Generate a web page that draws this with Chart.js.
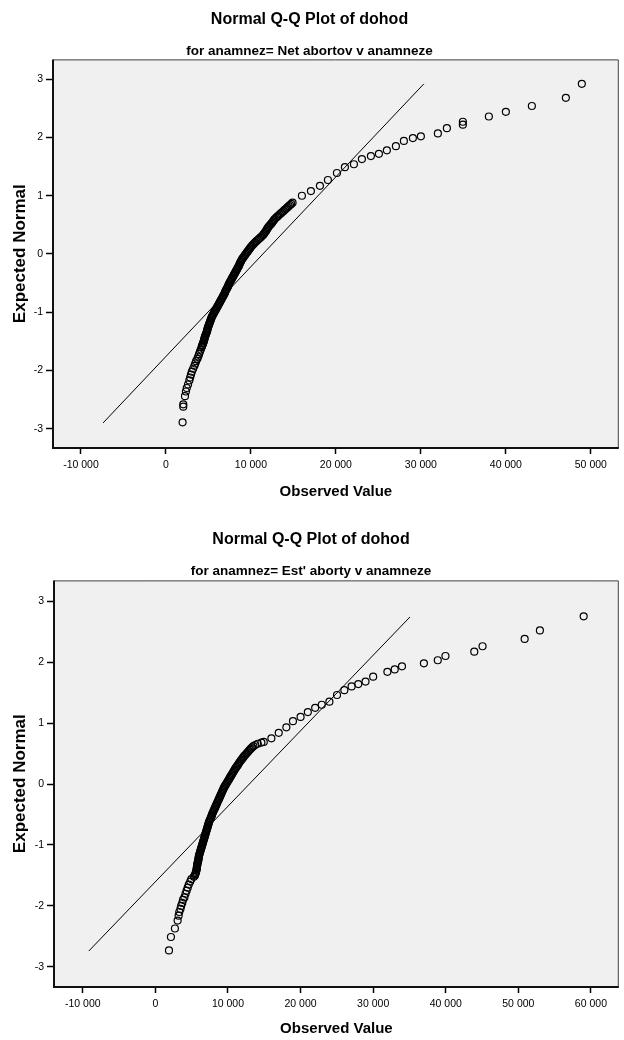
<!DOCTYPE html>
<html>
<head>
<meta charset="utf-8">
<script src="https://cdn.jsdelivr.net/npm/chart.js@4/dist/chart.umd.min.js"></script>
<style>
  body { margin: 0; background: #fff; }
  .box { position: absolute; left: 0; width: 624px; }
</style>
</head>
<body>
<div class="box" style="top:0;height:510px"><canvas id="qqTop"></canvas></div>
<div class="box" style="top:520px;height:520px"><canvas id="qqBottom"></canvas></div>
<script>
// tick labels
const yTicks = [-3, -2, -1, 0, 1, 2, 3];
const xTicksTop = [-10000, 0, 10000, 20000, 30000, 40000, 50000];
const xTicksBottom = [-10000, 0, 10000, 20000, 30000, 40000, 50000, 60000];

// Net abortov v anamneze: lower tail, dense middle, upper tail
const topLowX = [1960, 2040, 2040, 2240, 2350, 2450, 2600, 2750, 2850, 2950,
  3050, 3200, 3350, 3450, 3550, 3700, 3800, 3900, 4000, 4100];
const topLowY = [-2.89, -2.62, -2.58, -2.44, -2.36, -2.30, -2.24, -2.17, -2.12, -2.07,
  -2.02, -1.97, -1.92, -1.88, -1.84, -1.80, -1.76, -1.72, -1.68, -1.64];
const topMidX = [4200, 4250, 4300, 4350, 4400, 4450, 4500, 4520, 4550, 4600,
  4650, 4700, 4750, 4800, 4850, 4870, 4900, 4950, 5000, 5050,
  5100, 5150, 5200, 5250, 5300, 5350, 5400, 5470, 5550, 5620,
  5700, 5770, 5850, 5920, 6000, 6070, 6150, 6220, 6300, 6370,
  6450, 6520, 6600, 6670, 6750, 6820, 6900, 6950, 7000, 7070,
  7150, 7220, 7300, 7350, 7400, 7470, 7550, 7620, 7700, 7770,
  7850, 7920, 8000, 8070, 8150, 8220, 8300, 8370, 8450, 8520,
  8600, 8650, 8700, 8770, 8850, 8920, 9000, 9100, 9200, 9300,
  9400, 9500, 9600, 9700, 9800, 9900, 10000, 10120, 10250, 10370,
  10500, 10650, 10800, 10950, 11100, 11250, 11400, 11500, 11600, 11700,
  11800, 11870, 11950, 12050, 12150, 12270, 12400, 12500, 12600, 12700,
  12800, 12950, 13100, 13250, 13400, 13550, 13700, 13850, 14000, 14150,
  14300, 14450, 14600, 14750, 14900];
const topMidY = [-1.60, -1.58, -1.56, -1.54, -1.52, -1.50, -1.48, -1.46, -1.44, -1.42,
  -1.40, -1.38, -1.36, -1.34, -1.32, -1.30, -1.28, -1.26, -1.24, -1.22,
  -1.20, -1.18, -1.16, -1.14, -1.12, -1.10, -1.08, -1.06, -1.04, -1.02,
  -1.00, -0.98, -0.96, -0.94, -0.92, -0.90, -0.88, -0.86, -0.84, -0.82,
  -0.80, -0.78, -0.76, -0.74, -0.72, -0.70, -0.68, -0.66, -0.64, -0.62,
  -0.60, -0.58, -0.56, -0.54, -0.52, -0.50, -0.48, -0.46, -0.44, -0.42,
  -0.40, -0.38, -0.36, -0.34, -0.32, -0.30, -0.28, -0.26, -0.24, -0.22,
  -0.20, -0.18, -0.16, -0.14, -0.12, -0.10, -0.08, -0.06, -0.04, -0.02,
  0.00, 0.02, 0.04, 0.06, 0.08, 0.10, 0.12, 0.14, 0.16, 0.18,
  0.20, 0.22, 0.24, 0.26, 0.28, 0.30, 0.32, 0.34, 0.36, 0.38,
  0.40, 0.42, 0.44, 0.46, 0.48, 0.50, 0.52, 0.54, 0.56, 0.58,
  0.60, 0.62, 0.64, 0.66, 0.68, 0.70, 0.72, 0.74, 0.76, 0.78,
  0.80, 0.82, 0.84, 0.86, 0.88];
const topHighX = [16000, 17060, 18120, 19060, 20120, 21060, 22120, 23060, 24120, 25060,
  26000, 27060, 28000, 29060, 30000, 32000, 33060, 34940, 34940, 38000,
  40000, 43060, 47060, 48940];
const topHighY = [1.00, 1.08, 1.17, 1.27, 1.39, 1.49, 1.54, 1.63, 1.68, 1.72,
  1.78, 1.85, 1.94, 1.99, 2.02, 2.07, 2.16, 2.22, 2.27, 2.36,
  2.44, 2.54, 2.68, 2.92];
const topLineX = [-7400, 30350];
const topLineY = [-2.90, 2.92];

// Est' aborty v anamneze
const botLowX = [1870, 2140, 2690, 3060, 3200, 3290, 3450, 3550, 3700, 3800,
  4000, 4150, 4300, 4450, 4600, 4800, 4950, 5300];
const botLowY = [-2.73, -2.51, -2.37, -2.24, -2.16, -2.10, -2.05, -2.00, -1.95, -1.90,
  -1.86, -1.80, -1.75, -1.70, -1.65, -1.60, -1.56, -1.52];
const botMidX = [5450, 5500, 5550, 5600, 5650, 5680, 5700, 5720, 5750, 5780,
  5800, 5850, 5900, 5920, 5950, 5970, 6000, 6050, 6100, 6150,
  6200, 6250, 6300, 6350, 6400, 6450, 6500, 6550, 6600, 6650,
  6700, 6750, 6800, 6850, 6900, 6950, 7000, 7050, 7100, 7150,
  7200, 7250, 7300, 7350, 7400, 7470, 7550, 7620, 7700, 7750,
  7800, 7870, 7950, 8020, 8100, 8170, 8250, 8320, 8400, 8470,
  8550, 8620, 8700, 8770, 8850, 8920, 9000, 9070, 9150, 9220,
  9300, 9370, 9450, 9550, 9650, 9750, 9850, 9950, 10050, 10150,
  10250, 10350, 10450, 10550, 10650, 10750, 10850, 10950, 11050, 11170,
  11300, 11400, 11500, 11620, 11750, 11870, 12000, 12120, 12250, 12400,
  12550, 12700, 12850, 13000, 13150, 13320, 13500, 13750, 14100, 14600];
const botMidY = [-1.50, -1.48, -1.46, -1.44, -1.42, -1.40, -1.38, -1.36, -1.34, -1.32,
  -1.30, -1.28, -1.26, -1.24, -1.22, -1.20, -1.18, -1.16, -1.14, -1.12,
  -1.10, -1.08, -1.06, -1.04, -1.02, -1.00, -0.98, -0.96, -0.94, -0.92,
  -0.90, -0.88, -0.86, -0.84, -0.82, -0.80, -0.78, -0.76, -0.74, -0.72,
  -0.70, -0.68, -0.66, -0.64, -0.62, -0.60, -0.58, -0.56, -0.54, -0.52,
  -0.50, -0.48, -0.46, -0.44, -0.42, -0.40, -0.38, -0.36, -0.34, -0.32,
  -0.30, -0.28, -0.26, -0.24, -0.22, -0.20, -0.18, -0.16, -0.14, -0.12,
  -0.10, -0.08, -0.06, -0.04, -0.02, 0.00, 0.02, 0.04, 0.06, 0.08,
  0.10, 0.12, 0.14, 0.16, 0.18, 0.20, 0.22, 0.24, 0.26, 0.28,
  0.30, 0.32, 0.34, 0.36, 0.38, 0.40, 0.42, 0.44, 0.46, 0.48,
  0.50, 0.52, 0.54, 0.56, 0.58, 0.60, 0.62, 0.64, 0.66, 0.68];
const botHighX = [14930, 15980, 16990, 18040, 18950, 20000, 21000, 22010, 22920, 23970,
  25020, 26030, 27030, 27950, 28950, 30000, 31960, 32970, 33970, 36990,
  38900, 39960, 43930, 45070, 50870, 52970, 59000];
const botHighY = [0.69, 0.75, 0.84, 0.93, 1.03, 1.10, 1.18, 1.25, 1.30, 1.35,
  1.46, 1.54, 1.60, 1.64, 1.68, 1.76, 1.84, 1.88, 1.93, 1.98,
  2.03, 2.10, 2.17, 2.26, 2.38, 2.52, 2.75];
const botLineX = [-9180, 35070];
const botLineY = [-2.74, 2.74];

const FONT = "'Liberation Sans', Arial, sans-serif";

const fmt = v => {
  const s = String(Math.abs(v)).replace(/\B(?=(\d{3})+(?!\d))/g, ' ');
  return v < 0 ? '-' + s : s;
};
const pairs = (xs, ys) => xs.map((x, i) => ({ x: x, y: ys[i] }));

// grey plot background and the dark frame round it
const frame = {
  id: 'frame',
  beforeDatasetsDraw(chart) {
    const a = chart.chartArea, c = chart.ctx;
    c.save();
    c.fillStyle = '#f0f0f0';
    c.fillRect(a.left, a.top, a.right - a.left, a.bottom - a.top);
    c.restore();
  },
  afterDraw(chart) {
    const a = chart.chartArea, c = chart.ctx;
    c.save();
    c.strokeStyle = '#444';
    c.lineWidth = 1;
    c.beginPath();
    c.moveTo(a.left, a.top + 0.5);
    c.lineTo(a.right - 0.5, a.top + 0.5);
    c.lineTo(a.right - 0.5, a.bottom);
    c.stroke();
    c.strokeStyle = '#111';
    c.lineWidth = 2;
    c.beginPath();
    c.moveTo(a.left, a.top);
    c.lineTo(a.left, a.bottom);
    c.lineTo(a.right, a.bottom);
    c.stroke();
    c.restore();
  }
};

function qqChart(id, sub, obs, line, xTicks, xMin, xMax, opt) {
  new Chart(document.getElementById(id), {
    type: 'scatter',
    data: {
      datasets: [{
        data: obs,
        pointRadius: 3.5,
        pointBorderWidth: 1.2,
        pointBorderColor: '#000',
        pointBackgroundColor: 'rgba(0,0,0,0)'
      }, {
        type: 'line',
        data: line,
        borderColor: '#000',
        borderWidth: 1,
        pointRadius: 0,
        fill: false
      }]
    },
    options: {
      responsive: true,
      maintainAspectRatio: false,
      animation: false,
      layout: { padding: { left: 0, right: opt.right, top: 0, bottom: 0 } },
      plugins: {
        legend: { display: false },
        tooltip: { enabled: false },
        title: {
          display: true,
          text: 'Normal Q-Q Plot of dohod',
          color: '#000',
          font: { family: FONT, size: 16, weight: 'bold' },
          padding: { top: 10, bottom: 6 }
        },
        subtitle: {
          display: true,
          text: sub,
          color: '#000',
          font: { family: FONT, size: 13.5, weight: 'bold' },
          padding: { top: 8, bottom: opt.subBottom }
        }
      },
      scales: {
        x: {
          type: 'linear',
          min: xMin,
          max: xMax,
          afterFit: s => { s.height = opt.xHeight; },
          afterBuildTicks: s => { s.ticks = xTicks.map(v => ({ value: v })); },
          border: { display: false },
          grid: { drawOnChartArea: false, tickLength: 6, tickColor: '#000', tickWidth: 1.5 },
          ticks: { color: '#000', padding: 5, maxRotation: 0, font: { family: FONT, size: 10.5 }, callback: v => fmt(v) },
          title: {
            display: true,
            text: 'Observed Value',
            color: '#000',
            font: { family: FONT, size: 15, weight: 'bold' },
            padding: { top: 0, bottom: opt.xTitleBottom }
          }
        },
        y: {
          type: 'linear',
          min: -3.33,
          max: 3.34,
          afterFit: s => { s.width = opt.yWidth; },
          afterBuildTicks: s => { s.ticks = yTicks.map(v => ({ value: v })); },
          border: { display: false },
          grid: { drawOnChartArea: false, tickLength: 7, tickColor: '#000', tickWidth: 1.5 },
          ticks: { color: '#000', padding: 3, font: { family: FONT, size: 10.5 } },
          title: {
            display: true,
            text: 'Expected Normal',
            color: '#000',
            font: { family: FONT, size: 17, weight: 'bold' },
            padding: { top: 10, bottom: 0 }
          }
        }
      }
    },
    plugins: [frame]
  });
}

qqChart('qqTop', 'for anamnez= Net abortov v anamneze',
  pairs(topLowX.concat(topMidX, topHighX), topLowY.concat(topMidY, topHighY)),
  pairs(topLineX, topLineY),
  xTicksTop, -13290, 53290, { right: 5, subBottom: 0, xHeight: 62, xTitleBottom: 9, yWidth: 53 });
qqChart('qqBottom', "for anamnez= Est' aborty v anamneze",
  pairs(botLowX.concat(botMidX, botHighX), botLowY.concat(botMidY, botHighY)),
  pairs(botLineX, botLineY),
  xTicksBottom, -13970, 63840, { right: 2, subBottom: 1, xHeight: 53, xTitleBottom: 2, yWidth: 54 });
</script>
</body>
</html>
